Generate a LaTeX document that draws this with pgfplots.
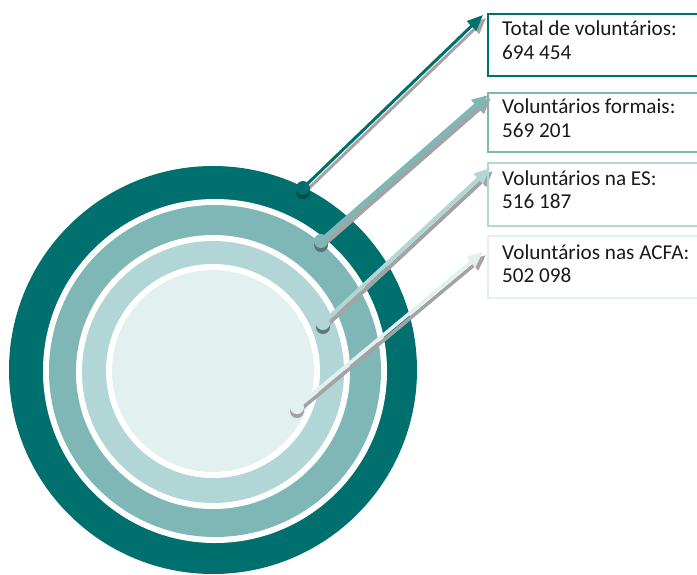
\documentclass[border=0pt]{standalone}
\usepackage{pgfplots}
\pgfplotsset{compat=1.18}
\usepackage{fontspec}
\setmainfont{Carlito}
\usetikzlibrary{arrows.meta}

\definecolor{tealD}{HTML}{00706E}
\definecolor{tealM}{HTML}{7FB7B7}
\definecolor{tealL}{HTML}{B2D6D6}
\definecolor{tealX}{HTML}{E3F0F0}
\definecolor{shgray}{HTML}{A3A3A3}

\tikzset{lbl/.style={anchor=base west, inner sep=0pt, text=black!90,
  font=\fontsize{21.2}{24}\selectfont}}

\begin{document}
\begin{tikzpicture}
\begin{axis}[name=ax, width=697pt, height=574pt, scale only axis,
  xmin=0, xmax=697, ymin=0, ymax=574, y dir=reverse, hide axis, clip=true]

% rings
\fill[tealD] (axis cs:213,370) circle[radius=204];
\fill[white] (axis cs:215,371) circle[radius=172];
\fill[tealM] (axis cs:215,371) circle[radius=166];
\fill[white] (axis cs:213,372) circle[radius=137];
\fill[tealL] (axis cs:213,372) circle[radius=131];
\fill[white] (axis cs:213,371) circle[radius=107];
\fill[tealX] (axis cs:213,371) circle[radius=101];

% arrow shadows
\addplot[no marks, line width=3pt, shgray, -{Triangle[length=16pt,width=13pt]}]
  coordinates {(306,191) (486,18)};
\addplot[no marks, line width=5pt, shgray, -{Triangle[length=16pt,width=14pt]}]
  coordinates {(324,244) (491,98)};
\addplot[no marks, line width=4pt, shgray, -{Triangle[length=16pt,width=13pt]}]
  coordinates {(326,326) (493,171)};
\addplot[no marks, line width=3.5pt, shgray, -{Triangle[length=16pt,width=13pt]}]
  coordinates {(300,410) (486,255)};

% arrows
\addplot[no marks, line width=3pt, tealD, -{Triangle[length=16pt,width=13pt]}]
  coordinates {(303,188) (483,15)};
\addplot[no marks, line width=5pt, tealM, -{Triangle[length=16pt,width=14pt]}]
  coordinates {(321,241) (488,95)};
\addplot[no marks, line width=4pt, tealL, -{Triangle[length=16pt,width=13pt]}]
  coordinates {(323,323) (490,168)};
\addplot[no marks, line width=3.5pt, tealX, -{Triangle[length=16pt,width=13pt]}]
  coordinates {(297,407) (483,252)};

% knobs
\fill[tealD!65!black] (axis cs:303,192) circle[radius=7];
\fill[tealD] (axis cs:303,188) circle[radius=7];
\fill[tealM!65!black] (axis cs:321,245) circle[radius=7];
\fill[tealM] (axis cs:321,241) circle[radius=7];
\fill[tealL!55!black] (axis cs:323,327) circle[radius=7];
\fill[tealL] (axis cs:323,323) circle[radius=7];
\fill[shgray] (axis cs:297,411) circle[radius=7];
\fill[tealX] (axis cs:297,407) circle[radius=7];

% boxes
\draw[tealD, line width=2pt] (axis cs:488,14) rectangle (axis cs:720,76);
\draw[tealM, line width=2pt] (axis cs:488,93) rectangle (axis cs:720,152);
\draw[tealL, line width=2pt] (axis cs:488,163) rectangle (axis cs:720,226);
\draw[tealX, line width=2pt] (axis cs:488,236) rectangle (axis cs:720,298);

\node[lbl] at (axis cs:502,35) {Total de voluntários:};
\node[lbl] at (axis cs:502,59) {694 454};
\node[lbl] at (axis cs:502,113) {Voluntários formais:};
\node[lbl] at (axis cs:502,137) {569 201};
\node[lbl] at (axis cs:502,185) {Voluntários na ES:};
\node[lbl] at (axis cs:502,208) {516 187};
\node[lbl] at (axis cs:502,259) {Voluntários nas ACFA:};
\node[lbl] at (axis cs:502,282) {502 098};
\end{axis}
\pgfresetboundingbox
\path (ax.south west) rectangle (ax.north east);
\end{tikzpicture}
\end{document}
